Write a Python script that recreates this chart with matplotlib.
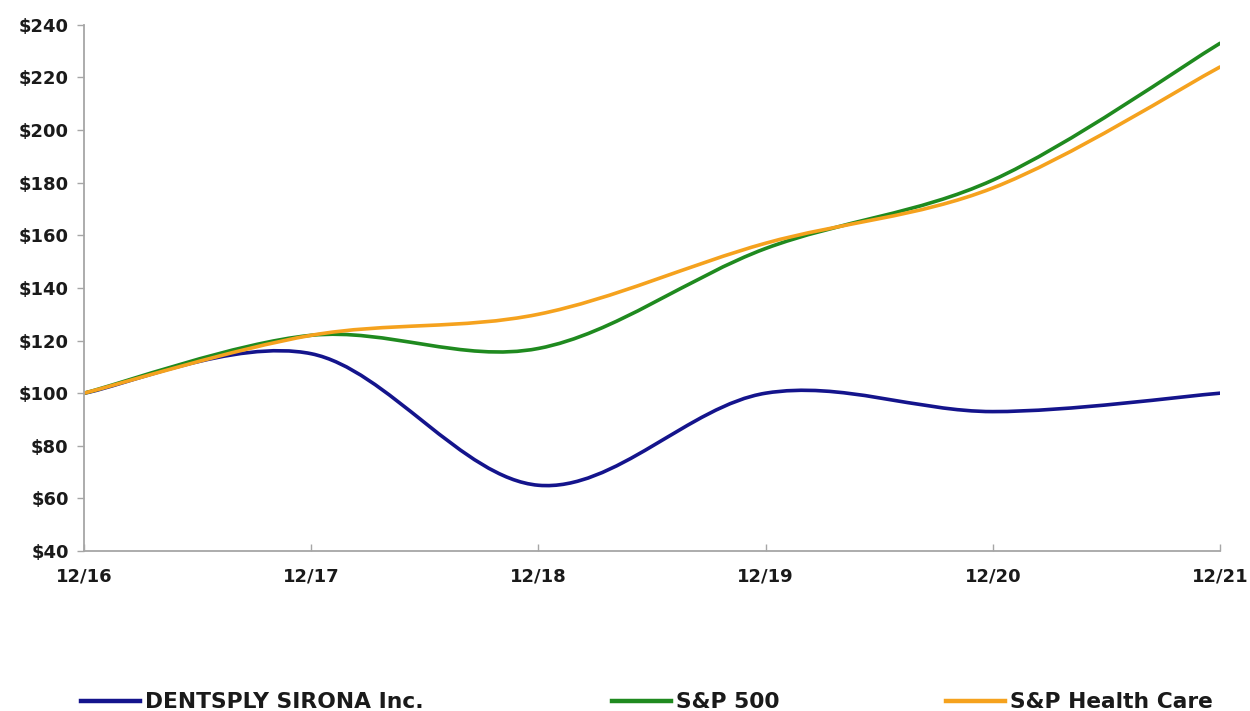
import matplotlib
matplotlib.use("Agg")
import matplotlib.pyplot as plt
from matplotlib.path import Path
from matplotlib.patches import PathPatch
from matplotlib.lines import Line2D
import numpy as np

plt.rcParams['font.family'] = ['DejaVu Sans']

periods = ["12/16", "12/17", "12/18", "12/19", "12/20", "12/21"]
dentsply = [100, 115, 65, 100, 93, 100]
sp500 = [100, 122, 117, 155, 181, 233]
sp_health = [100, 122, 130, 157, 178, 224]
y_ticks = [40, 60, 80, 100, 120, 140, 160, 180, 200, 220, 240]

series = [
    ("DENTSPLY SIRONA Inc.", dentsply, "#14148c"),
    ("S&P 500", sp500, "#1f8a1f"),
    ("S&P Health Care", sp_health, "#f5a21e"),
]

def smooth_path(xs, ys):
    xs = np.asarray(xs, float)
    ys = np.asarray(ys, float)
    n = len(xs)
    verts = [(xs[0], ys[0])]
    codes = [Path.MOVETO]
    for i in range(n - 1):
        p0 = np.array([xs[max(i - 1, 0)], ys[max(i - 1, 0)]])
        p1 = np.array([xs[i], ys[i]])
        p2 = np.array([xs[i + 1], ys[i + 1]])
        p3 = np.array([xs[min(i + 2, n - 1)], ys[min(i + 2, n - 1)]])
        c1 = p1 + (p2 - p0) / 6.0
        c2 = p2 - (p3 - p1) / 6.0
        verts += [tuple(c1), tuple(c2), tuple(p2)]
        codes += [Path.CURVE4] * 3
    return Path(verts, codes)

fig = plt.figure(figsize=(12.5, 7.11), dpi=100)
ax = fig.add_axes([0.0672, 0.2250, 0.9088, 0.740])

x = np.arange(len(periods))
for name, vals, col in series:
    patch = PathPatch(smooth_path(x, vals), facecolor="none", edgecolor=col,
                      lw=2.6, capstyle="round", joinstyle="round")
    ax.add_patch(patch)

ax.set_xlim(0, len(periods) - 1)
ax.set_ylim(40, 240)
ax.set_yticks(y_ticks)
ax.set_yticklabels([f"${v}" for v in y_ticks])
ax.set_xticks(x)
ax.set_xticklabels(periods)

for s in ["top", "right"]:
    ax.spines[s].set_visible(False)
for s in ["left", "bottom"]:
    ax.spines[s].set_color("#a6a6a6")
    ax.spines[s].set_linewidth(1.3)

ax.tick_params(axis="y", direction="out", length=5, color="#a6a6a6", width=1,
               labelsize=13, pad=6)
ax.tick_params(axis="x", direction="in", length=5, color="#a6a6a6", width=1,
               labelsize=13, pad=12)
for lab in ax.get_xticklabels() + ax.get_yticklabels():
    lab.set_fontweight("bold")
    lab.set_color("#1a1a1a")

legend_x = [0.0648, 0.4896, 0.7568]
for (name, vals, col), lx in zip(series, legend_x):
    h = Line2D([], [], color=col, lw=3.2)
    leg = fig.legend([h], [name], loc="center left", bbox_to_anchor=(lx, 0.012),
                     frameon=False, handlelength=2.7, handletextpad=0.25,
                     prop={"weight": "bold", "size": 15.7}, borderaxespad=0,
                     borderpad=0)
    for t in leg.get_texts():
        t.set_color("#1a1a1a")

fig.savefig("out.png", dpi=100)
